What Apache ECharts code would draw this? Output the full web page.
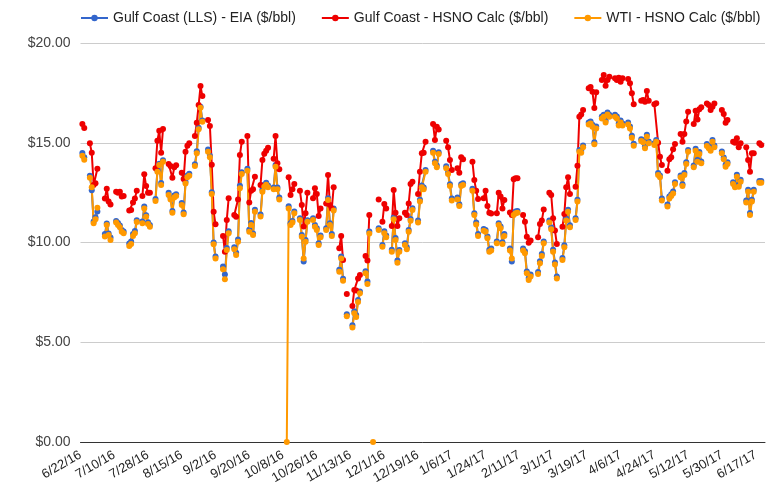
<!DOCTYPE html>
<html>
<head>
<meta charset="utf-8">
<script src="https://cdn.jsdelivr.net/npm/echarts@6/dist/echarts.min.js"></script>
<style>
  html, body { margin: 0; padding: 0; background: #fff; }
  #chart { width: 775px; height: 492px; }
</style>
</head>
<body>
<div id="chart"></div>
<script>
// calendar axis: every day from 6/22/16, labels every 18 days
var startDay = Date.UTC(2016, 5, 22);
var dayCount = 366;

// one value per trading day (Mon-Fri), starting Wed 6/22/16; null = no data
var gulfEia = [
  null, 14.48, 14.27,
  13.35, 12.62, 11.05, 11.26, 11.55,
  null, 10.42, 10.95, 10.45, 10.25,
  11.08, 10.98, 10.85, 10.63, 10.55,
  9.95, 10.05, 10.42, 10.58, 11.12,
  11.05, 11.80, 11.36, 11.02, 10.88,
  12.18, 13.62, 13.95, 12.98, 14.12,
  12.50, 12.25, 11.58, 12.35, 12.42,
  11.98, 11.50, 13.05, 13.36, 13.44,
  13.92, 14.58, 15.75, 16.80, 16.12,
  14.66, 14.35, 12.52, 10.00, 9.30,
  null, 8.80, 8.40, 9.72, 10.56,
  9.76, 9.48, 10.15, 12.85, 13.52,
  13.70, 10.64, 10.98, 10.45, 11.64,
  11.40, 12.65, 12.90, 13.00, 12.86,
  12.76, 13.88, 12.76, 12.25, null,
  null, 11.82, 10.96, 11.08, 11.55,
  11.22, 10.38, 9.05, 10.12, 11.12,
  11.22, 10.88, 10.72, 9.96, 10.35,
  10.72, 12.22, 10.97, 10.42, 11.70,
  8.64, 9.30, 8.18, null, 6.40,
  5.85, 6.55, 6.36, 7.12, 7.55,
  8.56, 8.05, 10.55, null, null,
  10.72, null, 9.88, 10.56, 10.35,
  9.64, 11.25, 10.22, 9.10, 9.62,
  9.96, 9.76, 10.63, 11.18, 11.72,
  11.10, 12.14, 12.86, 12.76, 13.64,
  null, 14.60, 14.05, 13.86, 14.52,
  null, 13.82, 13.52, 12.92, 12.20,
  12.25, 11.92, 12.92, 12.97, null,
  null, 12.70, 11.47, 11.00, 10.42,
  10.68, 10.63, 10.30, 9.64, 9.70,
  10.05, 10.97, 10.80, 10.01, 10.42,
  9.70, 9.05, 11.47, 11.55, 11.58,
  9.70, 9.56, 8.55, 8.22, 8.40,
  null, 8.52, 9.06, 9.42, 10.05,
  11.10, 10.76, 9.64, 9.00, 8.30,
  9.22, 9.86, 11.20, 11.64, 10.86,
  11.22, 12.14, 14.64, 14.60, 14.86,
  16.02, 16.06, 15.90, 15.02, 15.82,
  16.32, 16.40, 16.12, 16.52, 16.40,
  16.40, 16.32, 15.96, 16.12, 15.96,
  16.02, 15.82, 15.35, 14.95, null,
  15.18, 15.12, 14.82, 15.40, 15.06,
  14.98, 15.14, 13.48, 13.36, 12.20,
  11.90, 12.30, 12.42, 12.56, 13.02,
  13.36, 12.92, 13.48, 14.02, 14.64,
  13.86, 14.70, 14.14, 14.54, 14.06,
  14.94, 14.82, 14.70, 15.14, 14.86,
  null, 14.56, 14.26, 13.90, 14.02,
  13.02, 12.86, 13.40, 12.90, 13.14,
  12.10, 12.64, 11.48, 12.14, 12.64,
  13.08, 13.08
];

var gulfCalc = [
  null, 15.94, 15.74,
  14.97, 14.50, 12.88, 12.97, 13.70,
  null, 12.20, 12.70, 12.05, 11.90,
  12.55, 12.50, 12.55, 12.30, 12.33,
  11.60, 11.63, 12.00, 12.20, 12.60,
  12.33, 13.42, 12.83, 12.50, 12.50,
  13.72, 15.10, 15.60, 14.50, 15.69,
  13.93, 13.83, 13.25, 13.77, 13.87,
  13.50, 13.18, 14.55, 14.85, 14.97,
  15.34, 16.00, 16.89, 17.84, 17.34,
  16.14, 15.84, 13.90, 11.54, 10.91,
  null, 10.33, 9.54, 11.13, 12.22,
  11.38, 11.29, 12.16, 14.39, 15.05,
  15.34, 12.00, 12.60, 12.67, 13.30,
  12.88, 14.14, 14.45, 14.60, 14.75,
  14.20, 15.34, 13.97, 13.67, null,
  null, 13.27, 12.38, 12.67, 12.93,
  12.60, 11.88, 10.80, 11.46, 12.50,
  12.22, 12.72, 12.43, 11.33, 11.71,
  11.96, 13.38, 11.88, 11.71, 12.77,
  9.71, 10.33, 9.12, null, 7.42,
  6.82, 7.62, 7.60, 8.20, 8.37,
  9.32, 9.10, 11.38, null, null,
  12.16, null, 11.04, 11.93, 11.71,
  10.83, 12.63, 11.49, 10.83, 11.21,
  11.49, 11.38, 11.96, 12.93, 13.05,
  12.43, 13.55, 14.47, 14.50, 15.05,
  null, 15.94, 15.14, 15.80, 15.67,
  null, 15.10, 14.77, 14.14, 13.63,
  13.72, 13.50, 14.27, 14.17, null,
  null, 14.05, 13.13, 12.60, 12.18,
  12.22, 12.60, 11.83, 11.49, 11.45,
  11.46, 12.50, 12.30, 11.71, 12.13,
  11.50, 11.38, 13.17, 13.22, 13.22,
  11.38, 11.04, 10.29, 9.99, 10.10,
  null, 10.26, 10.93, 11.10, 11.66,
  12.50, 12.38, 11.21, 10.60, 9.92,
  10.79, 11.43, 12.77, 13.27, 12.43,
  12.80, 13.85, 16.30, 16.42, 16.64,
  17.73, 17.80, 17.56, 16.74, 17.53,
  18.15, 18.40, 17.86, 18.15, 18.31,
  18.23, 18.15, 18.26, 18.06, 18.23,
  18.20, 17.98, 17.48, 16.93, null,
  17.10, 17.14, 17.06, 17.60, 17.10,
  16.93, 16.98, 15.00, 14.30, 13.88,
  13.60, 14.17, 14.27, 14.67, 14.94,
  15.44, 15.05, 15.44, 16.06, 16.56,
  15.94, 16.61, 16.17, 16.68, 16.78,
  16.97, 16.89, 16.64, 16.81, 16.97,
  null, 16.64, 16.44, 16.00, 16.14,
  15.05, 15.00, 15.22, 14.77, 14.97,
  14.77, 14.14, 13.55, 14.47, 14.47,
  14.97, 14.89
];

var wtiCalc = [
  null, 14.35, 14.15,
  13.25, 12.77, 10.96, 11.16, 11.74,
  null, 10.30, 10.88, 10.38, 10.13,
  11.00, 10.88, 10.76, 10.54, 10.46,
  9.82, 9.92, 10.33, 10.46, 11.03,
  10.96, 11.71, 11.29, 10.93, 10.79,
  12.08, 13.55, 13.88, 12.88, 14.05,
  12.38, 12.16, 11.49, 12.26, 12.33,
  11.88, 11.41, 12.96, 13.27, 13.35,
  13.83, 14.47, 15.68, 16.75, 16.05,
  14.55, 14.27, 12.43, 9.91, 9.20,
  null, 8.66, 8.16, 9.62, 10.46,
  9.66, 9.37, 10.04, 12.72, 13.43,
  13.60, 10.54, 10.88, 10.38, 11.54,
  11.30, 12.55, 12.80, 12.90, 12.77,
  12.67, 13.80, 12.67, 12.16, null,
  0, 11.71, 10.88, 11.00, 11.46,
  11.13, 10.29, 9.20, 10.04, 11.04,
  11.13, 10.79, 10.63, 9.87, 10.26,
  10.63, 12.13, 10.88, 10.33, 11.60,
  8.54, 9.20, 8.08, null, 6.30,
  5.74, 6.45, 6.27, 7.02, 7.45,
  8.46, 7.92, 10.45, null, 0,
  10.63, null, 9.79, 10.46, 10.26,
  9.54, 11.16, 10.13, 8.99, 9.54,
  9.87, 9.66, 10.54, 11.09, 11.63,
  11.00, 12.05, 12.77, 12.67, 13.55,
  null, 14.50, 13.97, 13.77, 14.44,
  null, 13.72, 13.43, 12.83, 12.10,
  12.16, 11.83, 12.83, 12.88, null,
  null, 12.60, 11.38, 10.90, 10.33,
  10.59, 10.54, 10.21, 9.54, 9.60,
  9.96, 10.88, 10.71, 9.92, 10.33,
  9.60, 9.20, 11.38, 11.46, 11.49,
  9.60, 9.46, 8.46, 8.12, 8.30,
  null, 8.42, 8.96, 9.32, 9.96,
  11.00, 10.67, 9.54, 8.90, 8.20,
  9.12, 9.76, 11.10, 11.54, 10.76,
  11.13, 12.05, 14.55, 14.50, 14.77,
  15.92, 15.97, 15.80, 14.92, 15.72,
  16.22, 16.30, 16.02, 16.42, 16.30,
  16.30, 16.22, 15.86, 16.02, 15.86,
  15.92, 15.72, 15.25, 14.85, null,
  15.09, 15.02, 14.72, 15.30, 14.97,
  14.89, 15.05, 13.38, 13.27, 12.10,
  11.80, 12.20, 12.33, 12.46, 12.93,
  13.27, 12.83, 13.38, 13.93, 14.55,
  13.77, 14.60, 14.05, 14.44, 13.97,
  14.84, 14.72, 14.60, 15.05, 14.77,
  null, 14.47, 14.17, 13.80, 13.93,
  12.93, 12.77, 13.30, 12.80, 13.05,
  12.00, 12.55, 11.38, 12.05, 12.55,
  13.00, 13.00
];

var seriesNames = [
  'Gulf Coast (LLS) - EIA ($/bbl)',
  'Gulf Coast - HSNO Calc ($/bbl)',
  'WTI - HSNO Calc ($/bbl)'
];
var seriesColors = ['#3366cc', '#ee0000', '#ff9900'];

// build day labels M/D/YY
var dates = [];
for (var i = 0; i < dayCount; i++) {
  var d = new Date(startDay + i * 86400000);
  dates.push((d.getUTCMonth() + 1) + '/' + d.getUTCDate() + '/' + String(d.getUTCFullYear()).slice(2));
}

// put trading-day values onto calendar days, weekends left empty
function spread(values) {
  var out = [], k = 0;
  for (var i = 0; i < dayCount; i++) {
    var wd = (3 + i) % 7; // 6/22/16 is a Wednesday
    if (wd === 0 || wd === 6) out.push(null);
    else out.push(k < values.length ? values[k++] : null);
  }
  return out;
}

var chart = echarts.init(document.getElementById('chart'));
var font = '"Liberation Sans", Arial, sans-serif';

function lineSeries(idx, values) {
  return {
    name: seriesNames[idx],
    type: 'line',
    data: spread(values),
    symbol: 'circle',
    symbolSize: 6,
    showAllSymbol: true,
    connectNulls: false,
    color: seriesColors[idx],
    lineStyle: { width: 2, color: seriesColors[idx] },
    itemStyle: { color: seriesColors[idx] },
    emphasis: { disabled: true }
  };
}

chart.setOption({
  animation: false,
  backgroundColor: '#fff',
  textStyle: { fontFamily: font },
  legend: {
    top: 11,
    left: 80,
    padding: 0,
    itemWidth: 27,
    itemHeight: 8,
    itemGap: 25,
    textStyle: { fontSize: 14, color: '#222', fontFamily: font },
    data: seriesNames
  },
  grid: { left: 80.5, right: 10, top: 43, bottom: 50 },
  xAxis: {
    type: 'category',
    data: dates,
    boundaryGap: false,
    axisLine: { lineStyle: { color: '#333', width: 1 } },
    axisTick: { show: false },
    axisLabel: {
      interval: 17,
      rotate: 30,
      margin: 12,
      fontSize: 13,
      color: '#222',
      fontFamily: font
    },
    splitLine: { show: false }
  },
  yAxis: {
    type: 'value',
    min: 0,
    max: 20,
    interval: 5,
    axisLine: { show: false },
    axisTick: { show: false },
    splitLine: { lineStyle: { color: '#cccccc' } },
    axisLabel: {
      margin: 10,
      fontSize: 14,
      color: '#444',
      fontFamily: font,
      formatter: function (v) { return '$' + v.toFixed(2); }
    }
  },
  series: [
    lineSeries(0, gulfEia),
    lineSeries(1, gulfCalc),
    lineSeries(2, wtiCalc)
  ]
});
</script>
</body>
</html>
